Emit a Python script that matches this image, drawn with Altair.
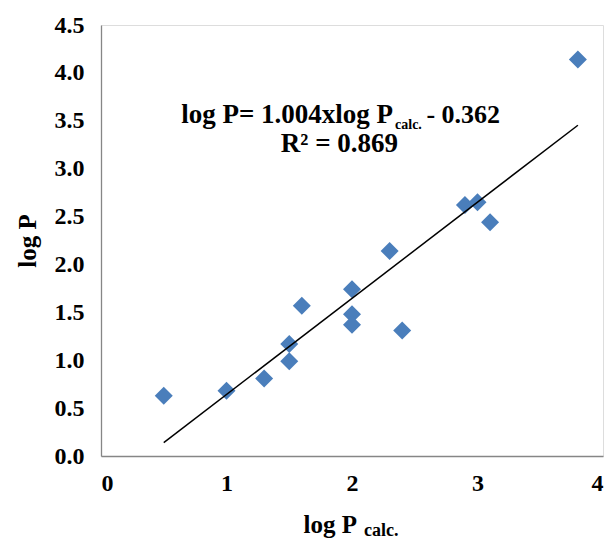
import altair as alt
import pandas as pd

# data
calc_x = [0.5, 1.0, 1.3, 1.5, 1.5, 1.6, 2.0, 2.0, 2.0, 2.3, 2.4, 2.9, 3.0, 3.1, 3.8]
logp_y = [0.63, 0.68, 0.81, 0.99, 1.17, 1.57, 1.74, 1.48, 1.37, 2.14, 1.31, 2.62, 2.65, 2.44, 4.14]

slope = 1.004
intercept = -0.362
line_x = [0.5, 3.8]

x_ticks = [0, 1, 2, 3, 4]
y_ticks = [0.0, 0.5, 1.0, 1.5, 2.0, 2.5, 3.0, 3.5, 4.0, 4.5]

FONT = "Liberation Serif"
W, H = 502, 431

pts = pd.DataFrame({"x": calc_x, "y": logp_y})
ln = pd.DataFrame({"x": line_x, "y": [slope * v + intercept for v in line_x]})

xscale = alt.Scale(domain=[0, 4], nice=False, zero=False)
yscale = alt.Scale(domain=[0, 4.5], nice=False, zero=False)

xaxis = alt.Axis(values=x_ticks, format="d", grid=False, ticks=False,
                 domainColor="#868686", domainWidth=1.3,
                 labelFont=FONT, labelFontWeight="bold", labelFontSize=24,
                 labelColor="black", labelPadding=15, title=None)
yaxis = alt.Axis(values=y_ticks, format=".1f", grid=False, ticks=False,
                 domainColor="#868686", domainWidth=1.3,
                 labelFont=FONT, labelFontWeight="bold", labelFontSize=24,
                 labelColor="black", labelPadding=17,
                 title="log P", titleFont=FONT, titleFontWeight="bold",
                 titleFontSize=25, titleColor="black", titlePadding=14)

points = alt.Chart(pts).mark_point(shape="diamond", filled=True, size=324,
                                   color="#4a7ebb", opacity=1).encode(
    x=alt.X("x:Q", scale=xscale, axis=xaxis),
    y=alt.Y("y:Q", scale=yscale, axis=yaxis),
)

trend = alt.Chart(ln).mark_line(color="black", strokeWidth=1.5).encode(
    x=alt.X("x:Q", scale=xscale),
    y=alt.Y("y:Q", scale=yscale),
)

eq = pd.DataFrame({"x": [2.327], "y": [3.476]})
eq_main = alt.Chart(eq).mark_text(text="log P= 1.004xlog P", align="right",
                                  baseline="alphabetic", font=FONT,
                                  fontWeight="bold", fontSize=27, color="black").encode(
    x=alt.X("x:Q", scale=xscale), y=alt.Y("y:Q", scale=yscale))
eq_sub = alt.Chart(eq).mark_text(text="calc.", align="left", dx=2, dy=6,
                                 baseline="alphabetic", font=FONT,
                                 fontWeight="bold", fontSize=14, color="black").encode(
    x=alt.X("x:Q", scale=xscale), y=alt.Y("y:Q", scale=yscale))
eq_tail_pos = pd.DataFrame({"x": [3.18], "y": [3.476]})
eq_tail = alt.Chart(eq_tail_pos).mark_text(text="- 0.362", align="right",
                                           baseline="alphabetic", font=FONT,
                                           fontWeight="bold", fontSize=26,
                                           color="black").encode(
    x=alt.X("x:Q", scale=xscale), y=alt.Y("y:Q", scale=yscale))

r2 = pd.DataFrame({"x": [1.90], "y": [3.173]})
r2_text = alt.Chart(r2).mark_text(text="R² = 0.869", align="center",
                                  baseline="alphabetic", font=FONT,
                                  fontWeight="bold", fontSize=27, color="black").encode(
    x=alt.X("x:Q", scale=xscale), y=alt.Y("y:Q", scale=yscale))

xt_main = alt.Chart(eq).mark_text(text="log P", align="right", baseline="alphabetic",
                                  font=FONT, fontWeight="bold", fontSize=25,
                                  color="black").encode(
    x=alt.value(256), y=alt.value(H + 77))
xt_sub = alt.Chart(eq).mark_text(text="calc.", align="left", baseline="alphabetic",
                                 font=FONT, fontWeight="bold", fontSize=18,
                                 color="black").encode(
    x=alt.value(263), y=alt.value(H + 80))

chart = alt.layer(points, trend, eq_main, eq_sub, eq_tail, r2_text,
                  xt_main, xt_sub).properties(
    width=W, height=H,
    autosize=alt.AutoSizeParams(type="none"),
    padding={"left": 101, "top": 25, "right": 7, "bottom": 83},
).configure_view(stroke=None).configure(background="white")

chart.save("out.html", embed_options={"renderer": "svg", "actions": False})
